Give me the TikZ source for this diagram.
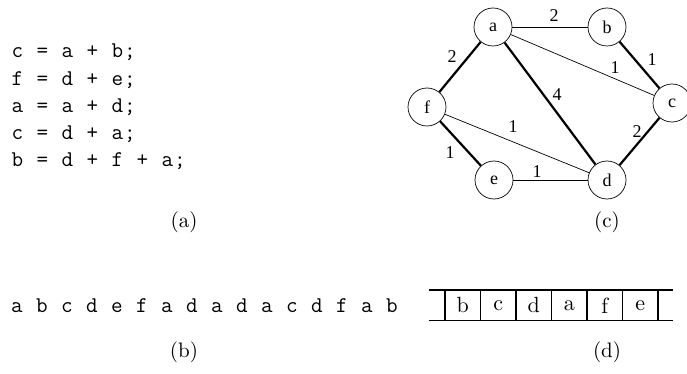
\documentclass[tikz,border=0pt]{standalone}
\usepackage{fontspec}
\usepackage{graphicx}
\newfontfamily\graphfont{Liberation Serif}
\makeatletter
\newcommand\monostr[1]{\mono@step#1\relax}
\def\mono@step#1{\ifx#1\relax\else\makebox[12.5pt][c]{#1}\expandafter\mono@step\fi}
\makeatother
\newcommand\bigtxt[1]{\scalebox{2.1}{#1}}
\newcommand\celltxt[1]{\scalebox{2.2}{#1}}
\begin{document}
\begin{tikzpicture}[x=1pt,y=-1pt,
  code/.style={anchor=base west,inner sep=0pt,font=\ttfamily\fontsize{22.5}{26}\selectfont},
  captxt/.style={font=\fontsize{10}{12}\selectfont,inner sep=0pt},
  vert/.style={circle,draw,line width=0.7pt,minimum size=38pt,inner sep=0pt,font=\graphfont\fontsize{18}{20}\selectfont},
  wlab/.style={inner sep=0pt,font=\graphfont\fontsize{18}{20}\selectfont},
  thinedge/.style={line width=0.7pt},
  heavyedge/.style={line width=2.2pt},
  stackline/.style={line width=1.2pt},
  cell/.style={draw,line width=1.2pt,outer sep=0pt,minimum width=35.5pt,minimum height=30.7pt,inner sep=0pt,font=\fontsize{10}{12}\selectfont}]
\useasboundingbox (0,0) rectangle (687,374);
% code (a)
\node[code] (l1) at (11,58) {\monostr{c~=~a~+~b;}};
\node[code] (l2) at (11,85.2) {\monostr{f~=~d~+~e;}};
\node[code] (l3) at (11,112.4) {\monostr{a~=~a~+~d;}};
\node[code] (l4) at (11,139.6) {\monostr{c~=~d~+~a;}};
\node[code] (l5) at (11,166.8) {\monostr{b~=~d~+~f~+~a;}};
\node[captxt] (capa) at (184,222) {\bigtxt{(a)}};
% graph (c)
\node[vert] (a) at (493,27) {a};
\node[vert] (b) at (607,27) {b};
\node[vert] (c) at (672,103) {c};
\node[vert] (d) at (607,180) {d};
\node[vert] (e) at (494,180) {e};
\node[vert] (f) at (427,107) {f};
\draw[thinedge] (a) -- (b);
\draw[thinedge] (a) -- (c);
\draw[thinedge] (f) -- (d);
\draw[thinedge] (e) -- (d);
\draw[heavyedge] (a) -- (f);
\draw[heavyedge] (a) -- (d);
\draw[heavyedge] (b) -- (c);
\draw[heavyedge] (c) -- (d);
\draw[heavyedge] (f) -- (e);
\node[wlab] (wab) at (554,16) {2};
\node[wlab] (wbc) at (652,60) {1};
\node[wlab] (wac) at (615,68) {1};
\node[wlab] (wad) at (557,95) {4};
\node[wlab] (waf) at (452,57) {2};
\node[wlab] (wfd) at (513,127) {1};
\node[wlab] (wfe) at (450,153) {1};
\node[wlab] (wed) at (537,172) {1};
\node[wlab] (wdc) at (637,132) {2};
\node[captxt] (capc) at (607,222) {\bigtxt{(c)}};
% sequence (b)
\node[code] (seq) at (10.5,312) {\monostr{a~b~c~d~e~f~a~d~a~d~a~c~d~f~a~b}};
\node[captxt] (capb) at (184,352) {\bigtxt{(b)}};
% stack (d)
\node[cell] (s1) at (462.75,305.35) {\celltxt{b}};
\node[cell] (s2) at (498.25,305.35) {\celltxt{c}};
\node[cell] (s3) at (533.75,305.35) {\celltxt{d}};
\node[cell] (s4) at (569.25,305.35) {\celltxt{a}};
\node[cell] (s5) at (604.75,305.35) {\celltxt{f}};
\node[cell] (s6) at (640.25,305.35) {\celltxt{e}};
\coordinate (tl) at (429,290);
\coordinate (bl) at (429,320.7);
\coordinate (tr) at (673,290);
\coordinate (br) at (673,320.7);
\draw[stackline] (tl) -- (s1.north west) (bl) -- (s1.south west);
\draw[stackline] (s6.north east) -- (tr) (s6.south east) -- (br);
\node[captxt] (capd) at (607,352) {\bigtxt{(d)}};
\end{tikzpicture}
\end{document}
